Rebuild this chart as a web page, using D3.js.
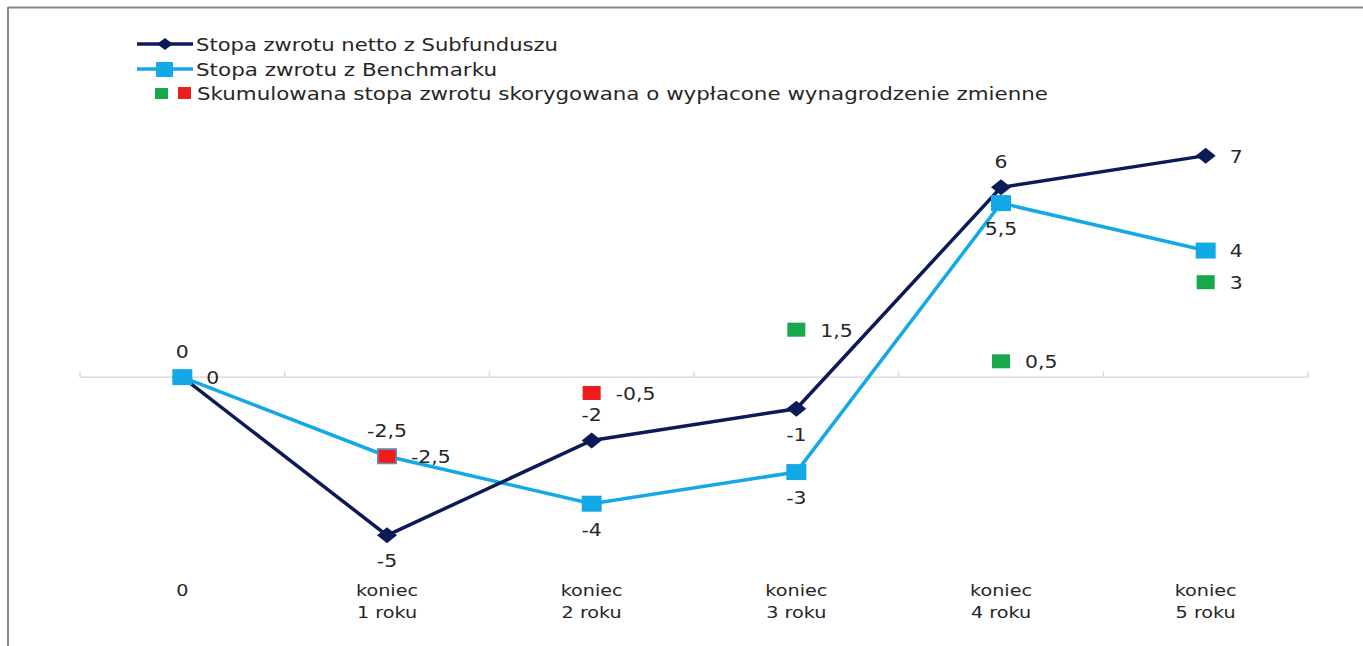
<!DOCTYPE html>
<html>
<head>
<meta charset="utf-8">
<script src="https://cdn.jsdelivr.net/npm/d3@7"></script>
<style>
  body { margin: 0; background: #fff; }
  text { font-family: "DejaVu Sans", sans-serif; fill: #262626; }
</style>
</head>
<body>
<svg id="chart" width="1363" height="646"></svg>
<script>
// Data
var categories = ["0", "koniec 1 roku", "koniec 2 roku", "koniec 3 roku", "koniec 4 roku", "koniec 5 roku"];
var netto = [0, -5, -2, -1, 6, 7];
var benchmark = [0, -2.5, -4, -3, 5.5, 4];
var adjusted = [null, -2.5, -0.5, 1.5, 0.5, 3];

var seriesNames = [
  "Stopa zwrotu netto z Subfunduszu",
  "Stopa zwrotu z Benchmarku",
  "Skumulowana stopa zwrotu skorygowana o wypłacone wynagrodzenie zmienne"
];

// where each data label sits relative to its point
var nettoLabelPos = ["above", "below", "above", "below", "above", "right"];
var benchLabelPos = ["right", "above", "below", "below", "below", "right"];

var navy = "#0c1b58", lightBlue = "#12a9e6", green = "#17a84b", red = "#ee1c1c";
var stretch = 1.2; // the original text is a bit wider than it is tall

var svg = d3.select("#chart");

// frame (only top and left edges show in the picture)
svg.append("line").attr("x1", 8).attr("x2", 1363).attr("y1", 7.5).attr("y2", 7.5)
  .attr("stroke", "#8a8a8a").attr("stroke-width", 2);
svg.append("line").attr("x1", 8).attr("x2", 8).attr("y1", 7).attr("y2", 646)
  .attr("stroke", "#8a8a8a").attr("stroke-width", 2);

var x = d3.scaleBand().domain(d3.range(categories.length)).range([80, 1308]).padding(0);
var y = d3.scaleLinear().domain([-6, 8]).range([567, 124]);
var cx = function(i) { return x(i) + x.bandwidth() / 2; };

var fmt = function(v) { return String(v).replace(".", ","); };

function wideText(sel, px, py, str, size, anchor) {
  return sel.append("text")
    .attr("transform", "translate(" + px + "," + py + ") scale(" + stretch + ",1)")
    .attr("text-anchor", anchor)
    .attr("dominant-baseline", "central")
    .style("font-size", size + "px")
    .text(str);
}

// horizontal axis at zero
var axisG = svg.append("g");
axisG.append("line")
  .attr("x1", x.range()[0]).attr("x2", x.range()[1])
  .attr("y1", y(0)).attr("y2", y(0))
  .attr("stroke", "#d4d4d4").attr("stroke-width", 1.2);
axisG.selectAll(".tick")
  .data(d3.range(categories.length + 1))
  .enter().append("line")
  .attr("x1", function(i) { return x.range()[0] + i * x.step(); })
  .attr("x2", function(i) { return x.range()[0] + i * x.step(); })
  .attr("y1", y(0) - 6).attr("y2", y(0))
  .attr("stroke", "#d4d4d4").attr("stroke-width", 1.2);

// category labels at the bottom
var catG = svg.append("g");
categories.forEach(function(c, i) {
  var parts = c.split(" ");
  if (parts.length === 1) {
    wideText(catG, cx(i), 591, c, 16, "middle");
  } else {
    wideText(catG, cx(i), 591, parts[0], 16, "middle");
    wideText(catG, cx(i), 613, parts[1] + " " + parts[2], 16, "middle");
  }
});

var line = d3.line()
  .x(function(d, i) { return cx(i); })
  .y(function(d) { return y(d); });

// benchmark line
svg.append("path").datum(benchmark)
  .attr("fill", "none").attr("stroke", lightBlue).attr("stroke-width", 3.5)
  .attr("d", line);

// netto line
svg.append("path").datum(netto)
  .attr("fill", "none").attr("stroke", navy).attr("stroke-width", 3.5)
  .attr("d", line);

// netto diamonds
svg.selectAll(".diamond").data(netto).enter().append("path")
  .attr("class", "diamond")
  .attr("d", "M0,-8L10,0L0,8L-10,0Z")
  .attr("fill", navy)
  .attr("transform", function(d, i) { return "translate(" + cx(i) + "," + y(d) + ")"; });

// benchmark squares
svg.selectAll(".bsq").data(benchmark).enter().append("rect")
  .attr("class", "bsq")
  .attr("x", function(d, i) { return cx(i) - 10; })
  .attr("y", function(d) { return y(d) - 8; })
  .attr("width", 20).attr("height", 16)
  .attr("fill", lightBlue);

// adjusted return squares (red when negative, green otherwise)
var adjData = adjusted.map(function(v, i) { return {i: i, v: v}; })
  .filter(function(d) { return d.v !== null; });
svg.selectAll(".asq").data(adjData).enter().append("rect")
  .attr("class", "asq")
  .attr("x", function(d) { return cx(d.i) - 9; })
  .attr("y", function(d) { return y(d.v) - 7; })
  .attr("width", 18).attr("height", 14)
  .attr("fill", function(d) { return d.v < 0 ? red : green; })
  .attr("stroke", function(d) { return d.v === benchmark[d.i] ? "#8a8a9a" : "none"; })
  .attr("stroke-width", 1);

// data labels
function placeLabel(sel, i, v, pos) {
  var px = cx(i), py = y(v);
  if (pos === "above") wideText(sel, px, py - 25, fmt(v), 17, "middle");
  else if (pos === "below") wideText(sel, px, py + 26, fmt(v), 17, "middle");
  else wideText(sel, px + 24, py + 1, fmt(v), 17, "start");
}
var labelG = svg.append("g");
netto.forEach(function(v, i) { placeLabel(labelG, i, v, nettoLabelPos[i]); });
benchmark.forEach(function(v, i) { placeLabel(labelG, i, v, benchLabelPos[i]); });
adjData.forEach(function(d) { placeLabel(labelG, d.i, d.v, "right"); });

// legend
var legend = svg.append("g");
legend.append("line").attr("x1", 137).attr("x2", 193).attr("y1", 44).attr("y2", 44)
  .attr("stroke", navy).attr("stroke-width", 3.5);
legend.append("path").attr("d", "M0,-6L8,0L0,6L-8,0Z").attr("fill", navy)
  .attr("transform", "translate(165,44)");
legend.append("text").attr("x", 196).attr("y", 44).attr("dominant-baseline", "central")
  .style("font-size", "18px").attr("textLength", 362).attr("lengthAdjust", "spacingAndGlyphs")
  .text(seriesNames[0]);

legend.append("line").attr("x1", 137).attr("x2", 193).attr("y1", 69).attr("y2", 69)
  .attr("stroke", lightBlue).attr("stroke-width", 3.5);
legend.append("rect").attr("x", 156).attr("y", 62).attr("width", 17).attr("height", 15)
  .attr("fill", lightBlue);
legend.append("text").attr("x", 196).attr("y", 69).attr("dominant-baseline", "central")
  .style("font-size", "18px").attr("textLength", 301).attr("lengthAdjust", "spacingAndGlyphs")
  .text(seriesNames[1]);

legend.append("rect").attr("x", 155).attr("y", 88).attr("width", 13).attr("height", 11).attr("fill", green);
legend.append("rect").attr("x", 178).attr("y", 87).attr("width", 13).attr("height", 12).attr("fill", red);
legend.append("text").attr("x", 197).attr("y", 93).attr("dominant-baseline", "central")
  .style("font-size", "18px").attr("textLength", 851).attr("lengthAdjust", "spacingAndGlyphs")
  .text(seriesNames[2]);
</script>
</body>
</html>
